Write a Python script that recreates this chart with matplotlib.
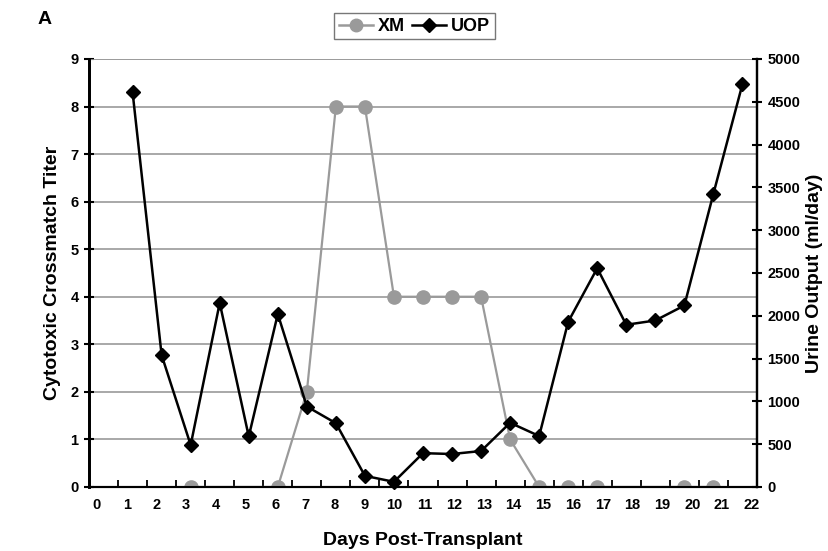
import matplotlib.pyplot as plt
import numpy as np
from matplotlib.lines import Line2D

plt.rcParams['font.family'] = ['Liberation Sans', 'DejaVu Sans']
plt.rcParams['font.weight'] = 'bold'

# crossmatch titer (left axis)
xm_days = [3, 6, 7, 8, 9, 10, 11, 12, 13, 14, 15, 16, 17, 20, 21]
xm_titer = [0, 0, 2, 8, 8, 4, 4, 4, 4, 1, 0, 0, 0, 0, 0]

# urine output in ml/day (right axis)
uop_days = list(range(1, 23))
uop_ml = [4610, 1540, 490, 2150, 590, 2020, 940, 745, 130, 60, 395, 385,
          420, 750, 595, 1930, 2555, 1895, 1945, 2120, 3425, 4705]

day_labels = [str(d) for d in range(23)]

GREY = '#9a9a9a'

fig = plt.figure(figsize=(8.29, 5.51), dpi=100)
ax = fig.add_axes([0.1074, 0.1162, 0.8057, 0.7768])
ax2 = ax.twinx()

ax.plot(xm_days, xm_titer, color=GREY, lw=1.6, marker='o', ms=9.5,
        markeredgecolor=GREY, zorder=3)
ax2.plot(uop_days, uop_ml, color='black', lw=1.8, marker='D', ms=7.5,
         zorder=4, clip_on=False)

ax.set_xlim(-0.5, 22.5)
ax.set_ylim(0, 9)
ax2.set_ylim(0, 5000)

# labels sit slightly offset from the category centres
ax.set_xticks(np.arange(23) * 1.025 - 0.23)
ax.set_xticklabels(day_labels)
ax.set_xticks(np.arange(0.5, 22.5, 1.0), minor=True)
ax.tick_params(axis='x', which='major', length=0, pad=8, labelsize=10.5)
ax.tick_params(axis='x', which='minor', direction='in', length=5, width=1.3)

ax.set_yticks(range(10))
ax.tick_params(axis='y', direction='inout', length=7, width=1.5, pad=4,
               labelsize=10.5)
ax2.set_yticks(range(0, 5001, 500))
ax2.tick_params(axis='y', direction='inout', length=7, width=1.5, pad=4,
                labelsize=10.5)

ax.yaxis.grid(True, color=GREY, lw=1.2)
ax.set_axisbelow(True)

for a in (ax, ax2):
    a.spines['top'].set_visible(False)
    a.spines['left'].set_linewidth(2)
    a.spines['right'].set_linewidth(1.6)
    a.spines['bottom'].set_linewidth(1.5)
    a.patch.set_visible(False)
ax.axhline(9, color=GREY, lw=1.2, zorder=1)

ax.set_xlabel('Days Post-Transplant', fontsize=14, fontweight='bold',
              labelpad=14)
ax.set_ylabel('Cytotoxic Crossmatch Titer', fontsize=14, fontweight='bold',
              labelpad=7)
ax2.set_ylabel('Urine Output (ml/day)', fontsize=14, fontweight='bold',
               labelpad=4)

handles = [
    Line2D([], [], color=GREY, lw=1.8, marker='o', ms=9, markeredgecolor=GREY),
    Line2D([], [], color='black', lw=1.8, marker='D', ms=7),
]
leg = fig.legend(handles, ['XM', 'UOP'], loc='upper center',
                 bbox_to_anchor=(0.5, 0.992), ncol=2, fancybox=False,
                 frameon=True, handlelength=1.9, handletextpad=0.25,
                 columnspacing=0.4, borderpad=0.25,
                 prop={'size': 13, 'weight': 'bold'})
leg.get_frame().set_edgecolor('#555555')
leg.get_frame().set_linewidth(1.0)

fig.text(0.045, 0.965, 'A', fontsize=14, fontweight='bold', va='center')

fig.savefig('out.png', dpi=100)
